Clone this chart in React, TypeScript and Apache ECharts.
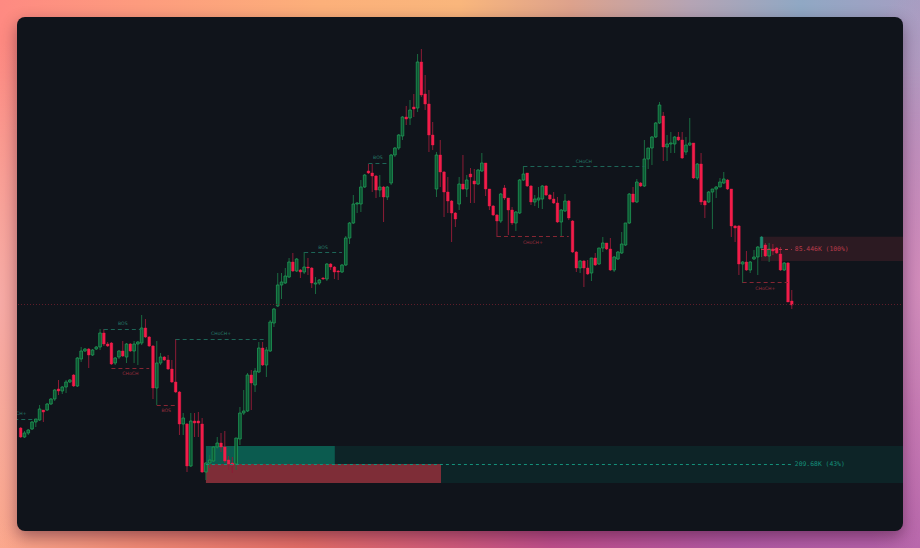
import React, { useEffect, useRef } from 'react';
import * as echarts from 'echarts';

// Candles: [open, close, low, high]
const ohlc: number[][] = [
  [72, 63, 62, 73], [63, 67, 62, 69], [67, 70, 65, 71], [71, 78, 70, 79], [78, 81, 73, 81],
  [80, 91, 79, 95], [90, 88, 78, 90], [90, 96, 89, 97], [96, 101, 95, 102], [101, 110, 99, 111],
  [111, 109, 105, 120], [109, 113, 106, 114], [113, 118, 107, 120], [118, 120, 117, 121], [125, 114, 113, 126],
  [114, 142, 113, 143], [141, 149, 138, 153], [149, 151, 148, 152], [151, 145, 132, 152], [145, 150, 144, 151],
  [151, 153, 150, 154], [153, 167, 150, 171], [167, 156, 154, 171], [156, 154, 153, 158], [157, 136, 135, 158],
  [137, 142, 135, 143], [143, 149, 141, 150], [149, 144, 143, 159], [143, 156, 137, 157], [156, 149, 148, 157],
  [149, 156, 137, 159], [156, 158, 135, 159], [157, 172, 155, 185], [172, 163, 162, 181], [163, 154, 153, 164],
  [154, 112, 101, 155], [112, 137, 95, 159], [137, 143, 135, 147], [143, 140, 139, 144], [140, 131, 130, 145],
  [131, 118, 117, 140], [118, 108, 107, 161], [108, 76, 65, 109], [76, 82, 65, 87], [76, 34, 28, 77],
  [34, 79, 33, 87], [79, 77, 63, 87], [79, 77, 63, 88], [76, 28, 27, 82], [28, 37, 20, 38],
  [37, 40, 32, 45], [39, 53, 38, 54], [53, 57, 51, 63], [57, 53, 48, 67], [53, 39, 37, 69],
  [40, 36, 30, 44], [37, 35, 27, 43], [36, 62, 30, 62], [61, 87, 55, 93], [87, 89, 85, 110],
  [89, 125, 88, 127], [125, 117, 90, 130], [115, 129, 108, 132], [128, 152, 127, 158], [152, 135, 134, 158],
  [135, 150, 123, 153], [149, 178, 148, 180], [177, 191, 173, 192], [194, 215, 193, 227], [215, 218, 201, 227],
  [217, 224, 216, 232], [223, 238, 222, 242], [238, 229, 228, 247], [229, 241, 228, 242], [230, 228, 222, 231],
  [228, 233, 226, 248], [233, 232, 225, 242], [232, 217, 212, 233], [216, 217, 206, 223], [217, 220, 215, 221],
  [222, 221, 220, 223], [221, 236, 219, 237], [236, 233, 230, 237], [233, 228, 221, 234], [229, 228, 220, 230],
  [228, 235, 227, 236], [235, 262, 234, 264], [262, 277, 256, 278], [277, 296, 276, 305], [296, 297, 287, 298],
  [296, 313, 288, 320], [313, 325, 312, 326], [329, 327, 326, 336], [327, 324, 308, 336], [324, 310, 302, 325],
  [310, 313, 303, 325], [313, 303, 278, 314], [303, 313, 300, 314], [317, 345, 315, 346], [345, 352, 343, 353],
  [352, 365, 350, 366], [364, 383, 360, 384], [383, 381, 375, 394], [382, 390, 375, 400], [393, 391, 383, 406],
  [392, 438, 388, 446], [438, 405, 403, 451], [406, 396, 390, 425], [396, 365, 348, 410], [365, 355, 350, 378],
  [311, 345, 303, 348], [345, 328, 313, 360], [328, 308, 283, 329], [308, 299, 287, 323], [299, 287, 258, 300],
  [287, 281, 273, 288], [296, 316, 290, 323], [316, 311, 310, 345], [311, 320, 303, 325], [326, 323, 297, 332],
  [319, 316, 297, 331], [316, 330, 315, 331], [329, 337, 328, 347], [337, 311, 304, 337], [311, 294, 290, 311],
  [294, 285, 284, 295], [285, 279, 263, 286], [279, 306, 277, 307], [312, 302, 300, 315], [302, 290, 265, 302],
  [290, 277, 275, 293], [277, 288, 269, 289], [287, 320, 286, 321], [320, 326, 319, 334], [327, 314, 313, 327],
  [314, 298, 295, 315], [298, 301, 294, 305], [300, 302, 292, 313], [301, 314, 291, 315], [314, 305, 304, 315],
  [305, 301, 300, 306], [301, 297, 296, 308], [297, 278, 277, 303], [278, 290, 263, 291], [289, 299, 288, 306],
  [299, 282, 280, 300], [279, 248, 247, 280], [248, 232, 228, 249], [232, 239, 227, 240], [239, 232, 213, 240],
  [232, 226, 225, 240], [227, 242, 219, 242], [242, 235, 234, 247], [236, 252, 235, 252], [252, 257, 248, 263],
  [257, 251, 250, 257], [251, 230, 229, 262], [230, 243, 228, 244], [241, 248, 240, 249], [247, 256, 246, 268],
  [255, 277, 254, 277], [277, 306, 276, 307], [306, 298, 297, 313], [298, 318, 297, 321], [317, 314, 313, 318],
  [314, 341, 313, 360], [341, 352, 331, 352], [352, 363, 335, 364], [363, 377, 362, 378], [377, 395, 376, 398],
  [384, 353, 339, 388], [353, 356, 339, 365], [356, 357, 347, 368], [356, 363, 347, 364], [363, 360, 359, 368],
  [360, 342, 341, 368], [348, 355, 345, 363], [355, 357, 354, 382], [357, 322, 321, 357], [322, 336, 320, 337],
  [336, 298, 295, 347], [299, 295, 282, 300], [298, 308, 297, 309], [308, 311, 271, 311], [311, 313, 302, 314],
  [313, 318, 313, 322], [317, 321, 316, 328], [320, 311, 310, 321], [311, 274, 263, 311], [274, 272, 258, 275],
  [274, 236, 225, 275], [236, 238, 217, 239], [238, 230, 229, 249], [230, 238, 227, 239], [241, 243, 240, 250],
  [243, 253, 225, 254], [252, 263, 243, 264], [255, 244, 243, 257], [244, 251, 238, 257], [251, 249, 245, 256],
  [252, 247, 246, 253], [246, 230, 229, 253], [230, 237, 229, 238], [237, 198, 198, 238], [199, 195, 191, 210],
];

const highlightCandle = 196;
const lastPrice = 196;

// Market structure breaks
const structText = ['CHoCH+', 'BOS', 'CHoCH', 'BOS', 'CHoCH+', 'BOS', 'BOS', 'CHoCH', 'CHoCH+', 'CHoCH+'];
const structLevel = [80.7, 171, 131.7, 94.7, 160.7, 247.5, 336.7, 333.3, 263.3, 217.3];
const structFrom = [-5.4, 22, 24, 36, 41, 75, 92, 133, 126, 191];
const structTo = [3.2, 32, 34, 41, 65, 85, 97, 165, 145, 203];
const structBull = [true, true, false, false, true, true, true, true, false, false];

// Zones: [left index, right index (null = to edge), top price, bottom price]
const zoneLeft = [49, 49, 49, 195.85];
const zoneRight: (number | null)[] = [null, 83.1, 111.2, null];
const zoneTop = [54, 54, 36, 263.3];
const zoneBottom = [17, 36, 17, 239];

// Zone lines with volume labels
const zoneLineLevel = [35.7, 251];
const zoneLineFrom = [49, 195.85];
const zoneLineTo = [204, 204];
const zoneLineText = ['209.68K (43%)', '85.446K (100%)'];

const X_MIN = -11.03;
const X_MAX = 233.42;
const Y_MIN = -31;
const Y_MAX = 483;

const ZONE_COLORS = ['#0d2427', '#0b5b4f', '#7e2d37', '#2c1a22'];
const ZONE_LINE_COLORS = ['#14907a', '#b83a4a'];
const TEAL_LINE = '#1d6557';
const TEAL_TEXT = '#267a69';
const RED_LINE = '#862633';
const RED_TEXT = '#9b2e3d';

export default function App() {
  const ref = useRef<HTMLDivElement>(null);

  useEffect(() => {
    if (!ref.current) return;
    const chart = echarts.init(ref.current, undefined, { renderer: 'svg' });

    const candles = ohlc.map((d, i) => [i, d[0], d[1], d[2], d[3]]);

    const renderItem = (params: any, api: any) => {
      const idx = api.value(0);
      const o = api.value(1);
      const c = api.value(2);
      const l = api.value(3);
      const h = api.value(4);
      const pO = api.coord([idx, o]);
      const pC = api.coord([idx, c]);
      const pL = api.coord([idx, l]);
      const pH = api.coord([idx, h]);
      const bw = api.size([1, 0])[0] * 0.7;
      const up = c >= o;
      const special = idx === highlightCandle;
      const top = Math.min(pO[1], pC[1]);
      const height = Math.max(Math.abs(pO[1] - pC[1]), 1);
      const x = pO[0];
      const bodyStyle = special
        ? { fill: '#1c8a70', stroke: '#1c8a70', lineWidth: 0.5 }
        : up
        ? { fill: '#0e5533', stroke: '#1e9a56', lineWidth: 0.8 }
        : { fill: '#f21d4a', stroke: '#f21d4a', lineWidth: 0.4 };
      return {
        type: 'group',
        children: [
          {
            type: 'line',
            shape: { x1: x, y1: pH[1], x2: x, y2: pL[1] },
            style: { stroke: up ? '#1a6b41' : '#8c1c36', lineWidth: 1 },
          },
          {
            type: 'rect',
            shape: { x: x - bw / 2, y: top, width: bw, height },
            style: bodyStyle,
          },
        ],
      };
    };

    const areaData = zoneLeft.map((l, i) => [
      { xAxis: l, yAxis: zoneTop[i], itemStyle: { color: ZONE_COLORS[i], opacity: 1, borderWidth: 0 } },
      { xAxis: zoneRight[i] === null ? X_MAX : zoneRight[i], yAxis: zoneBottom[i] },
    ]);

    const structLines = structText.map((t, i) => {
      const bull = structBull[i];
      return [
        {
          coord: [structFrom[i], structLevel[i]],
          lineStyle: { color: bull ? TEAL_LINE : RED_LINE, width: 1, type: [4, 3] },
          label: {
            show: true,
            formatter: t,
            position: bull ? 'insideMiddleTop' : 'insideMiddleBottom',
            distance: 3,
            color: bull ? TEAL_TEXT : RED_TEXT,
            fontSize: 4.6,
            fontFamily: 'DejaVu Sans',
          },
        },
        { coord: [structTo[i], structLevel[i]] },
      ];
    });

    const zoneLines = zoneLineText.map((t, i) => [
      {
        coord: [zoneLineFrom[i], zoneLineLevel[i]],
        lineStyle: { color: ZONE_LINE_COLORS[i], width: 1, type: [3, 3] },
        label: {
          show: true,
          formatter: t,
          position: 'end',
          distance: 3,
          color: ZONE_LINE_COLORS[i],
          fontSize: 6.4,
          fontFamily: 'DejaVu Sans Mono',
        },
      },
      { coord: [zoneLineTo[i], zoneLineLevel[i]] },
    ]);

    const priceLine = {
      yAxis: lastPrice,
      lineStyle: { color: '#5e1d2a', width: 1, type: [1, 2] },
      label: { show: false },
    };

    const option: any = {
      animation: false,
      backgroundColor: 'transparent',
      grid: { left: 0, right: 0, top: 0, bottom: 0 },
      xAxis: { type: 'value', min: X_MIN, max: X_MAX, show: false },
      yAxis: { type: 'value', min: Y_MIN, max: Y_MAX, show: false },
      series: [
        {
          type: 'line',
          data: [],
          silent: true,
          markArea: { silent: true, data: areaData },
          markLine: {
            silent: true,
            symbol: ['none', 'none'],
            emphasis: { disabled: true },
            data: [priceLine, ...structLines, ...zoneLines],
          },
        },
        {
          type: 'custom',
          renderItem,
          data: candles,
          encode: { x: 0, y: [1, 2, 3, 4] },
          silent: true,
          z: 3,
        },
      ],
    };

    chart.setOption(option);
    return () => chart.dispose();
  }, []);

  const maskGrad = 'linear-gradient(180deg, #000 0%, #000 12%, transparent 75%)';

  return (
    <div
      style={{
        position: 'fixed',
        left: 0,
        top: 0,
        width: 920,
        height: 548,
        overflow: 'hidden',
        background:
          'linear-gradient(90deg, #fba88c 0%, #f28b75 15%, #e46d66 33%, #cf5a7c 50%, #c04f8c 60%, #b25aa4 80%, #b563aa 100%)',
      }}
    >
      <div
        style={{
          position: 'absolute',
          inset: 0,
          background:
            'linear-gradient(90deg, #fe8a82 0%, #fd9b7e 15%, #fcb07a 35%, #f9b67c 50%, #dda28c 62%, #b5a4b4 75%, #90a8c4 87%, #a69ec2 100%)',
          WebkitMaskImage: maskGrad,
          maskImage: maskGrad,
        } as any}
      />
      <div
        style={{
          position: 'absolute',
          inset: 0,
          background:
            'radial-gradient(ellipse 70px 260px at 0% 55%, rgba(247,172,168,0.95), rgba(247,172,168,0) 100%), radial-gradient(ellipse 90px 300px at 100% 52%, rgba(214,142,188,0.9), rgba(214,142,188,0) 100%)',
        }}
      />
      <div
        style={{
          position: 'absolute',
          left: 17,
          top: 17,
          width: 886,
          height: 514,
          borderRadius: 8,
          overflow: 'hidden',
          background: '#10141b',
          boxShadow: '0 6px 16px rgba(50,10,40,0.45)',
        }}
      >
        <div ref={ref} style={{ position: 'absolute', left: -38, top: 0, width: 924, height: 514 }} />
      </div>
    </div>
  );
}
